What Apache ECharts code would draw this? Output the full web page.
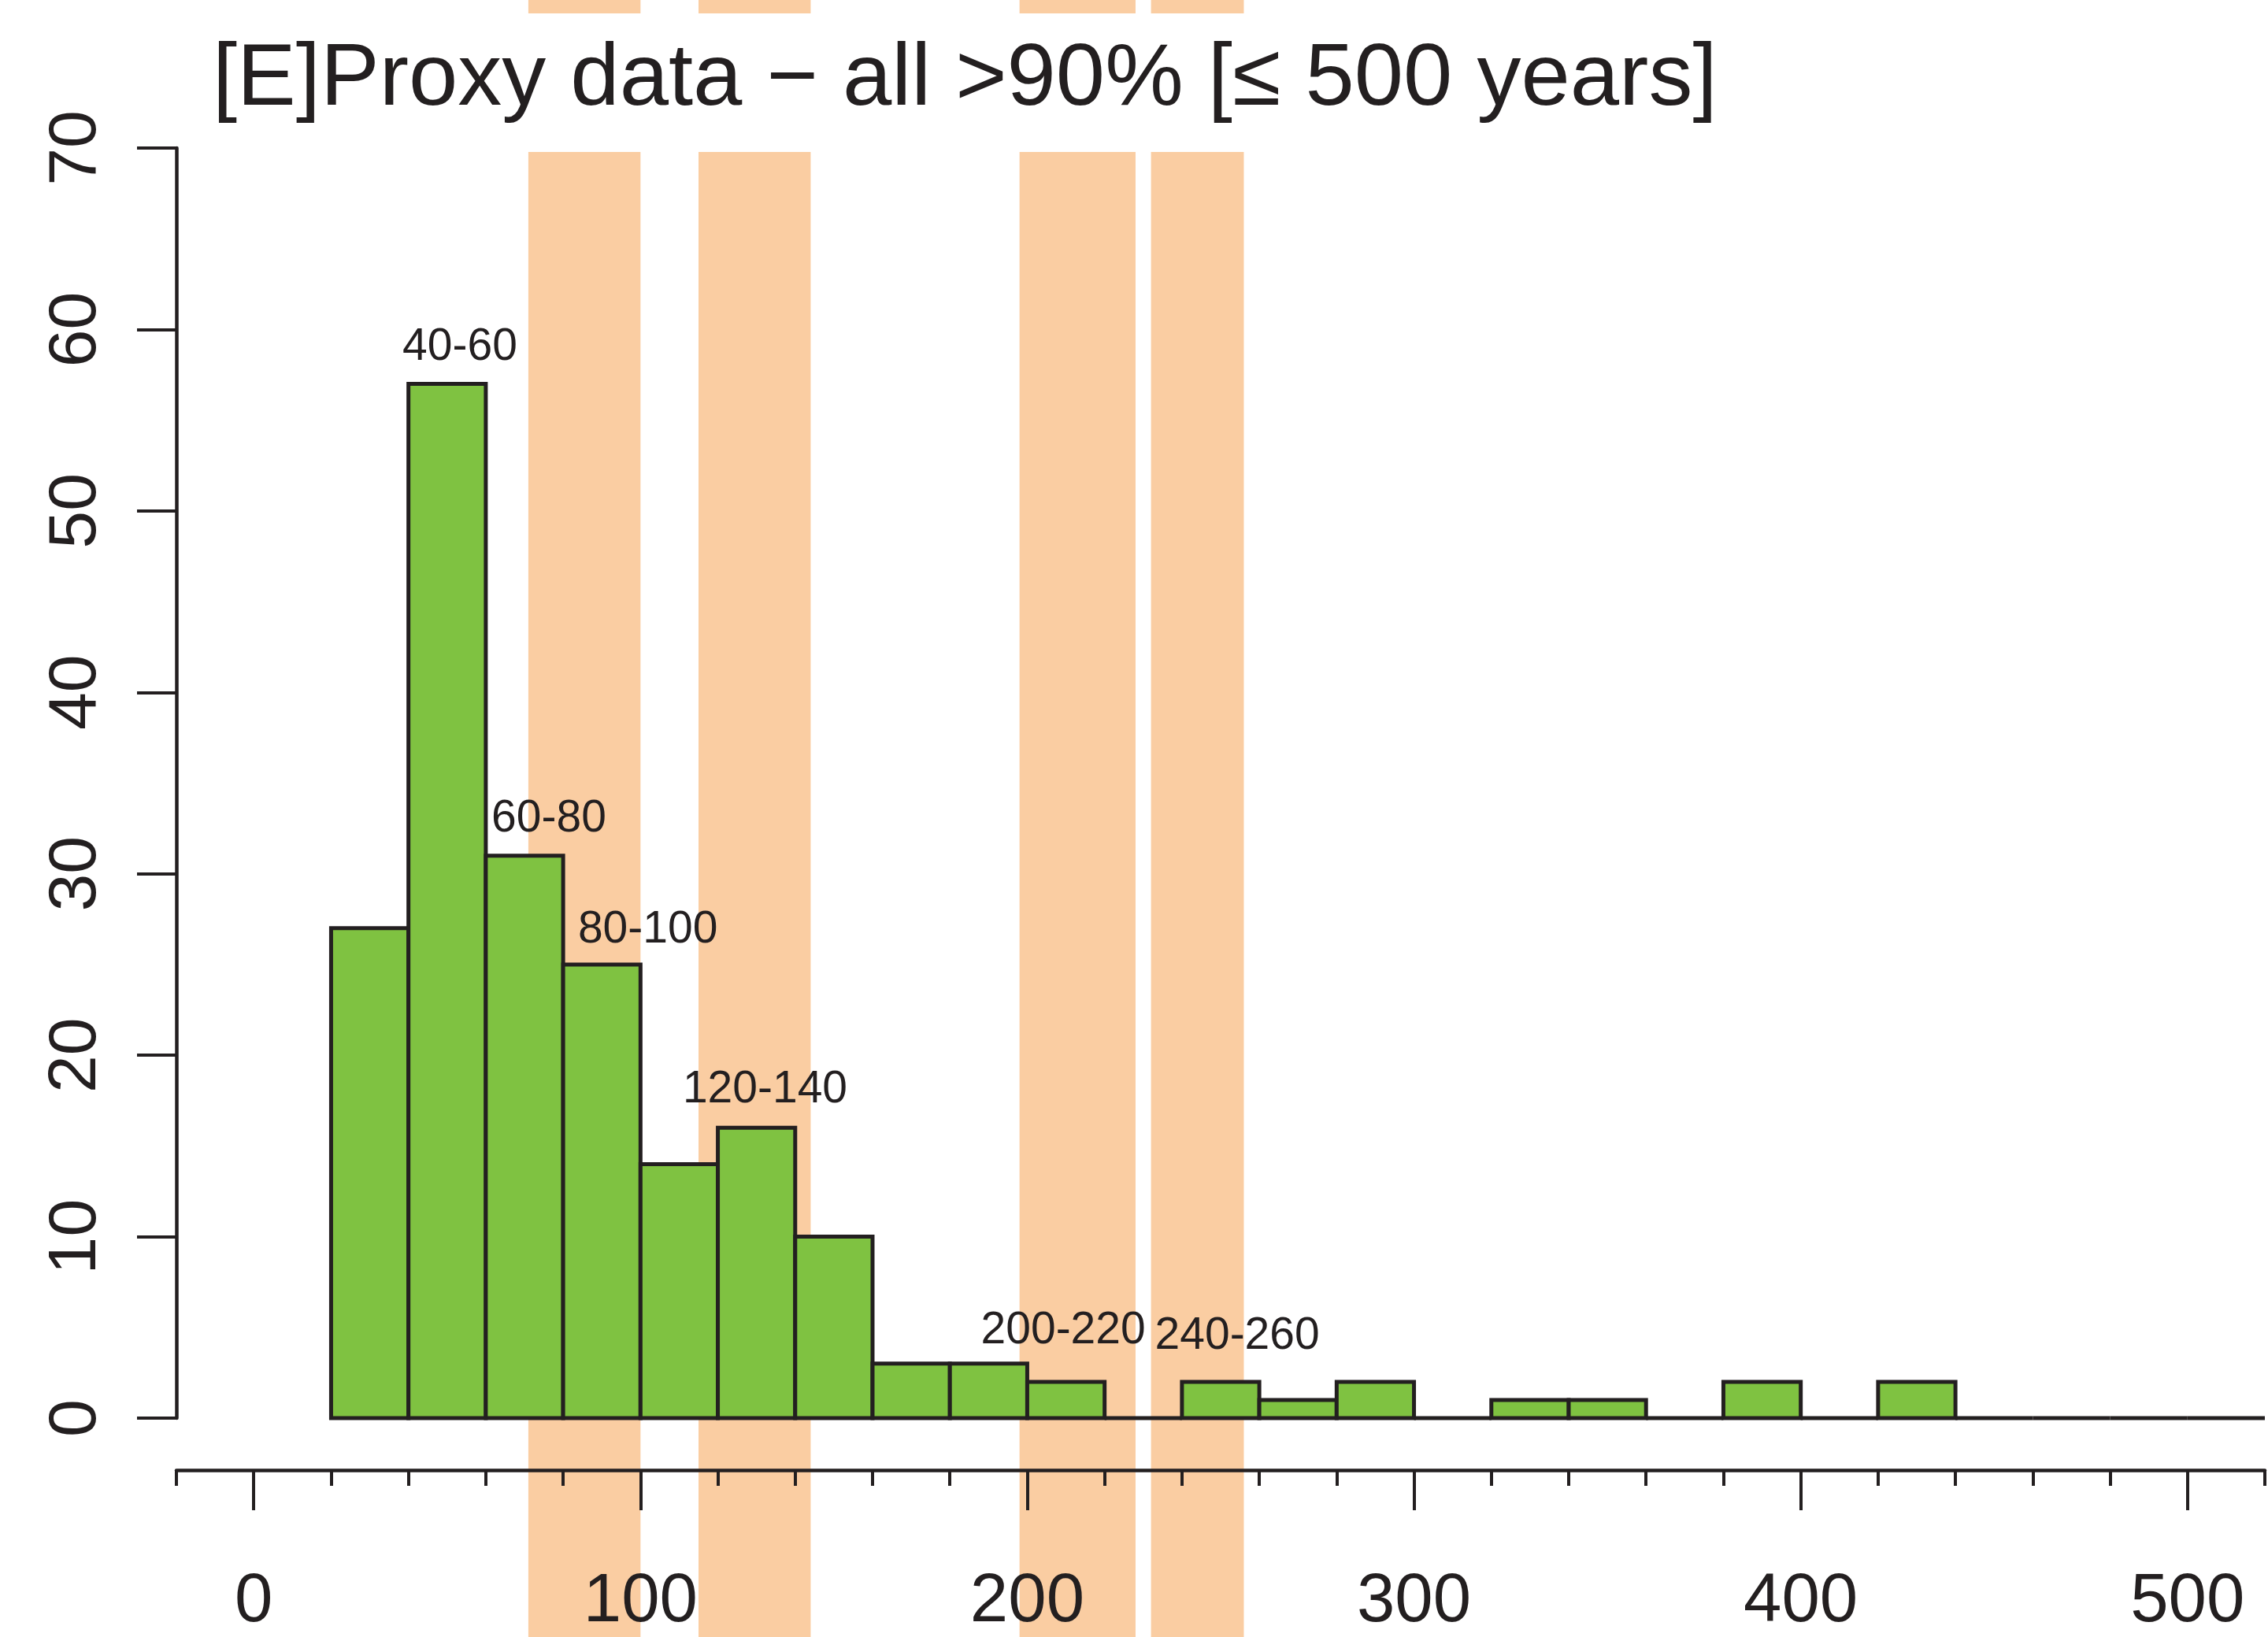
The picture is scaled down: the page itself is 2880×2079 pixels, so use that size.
<!DOCTYPE html>
<html><head><meta charset="utf-8">
<script src="https://cdn.jsdelivr.net/npm/echarts@6/dist/echarts.min.js"></script>
<style>html,body{margin:0;padding:0;background:#fff}#c{width:2880px;height:2079px}</style>
</head><body><div id="c"></div>
<script>
// ---- data ----
const titleText = '[E]Proxy data \u2212 all >90% [\u2264 500 years]';
const binWidth = 20;
const binStarts = [20,40,60,80,100,120,140,160,180,200,220,240,260,280,300,320,340,360,380,400,420,440,460,480,500];
const counts    = [27,57,31,25,14,16,10,3,3,2,0,2,1,2,0,1,1,0,2,0,2,0,0,0,0];
const bandStarts = [71,115,198,232];
const bandEnds   = [100,144,228,256];
const xTickValues = [0,100,200,300,400,500];
const annoText = ['40-60','60-80','80-100','120-140','200-220','240-260'];
const annoX    = [53.3,76.3,101.9,132.2,209.3,254.3];
const annoY    = [59.0,33.0,26.9,18.1,4.8,4.5];

// ---- chart ----
const FONT = "'Liberation Sans', Arial, Helvetica, sans-serif";
const INK = '#231f20';
const GREEN = '#7fc241';
const ORANGE = '#facda2';
const chart = echarts.init(document.getElementById('c'), null, {renderer:'canvas'});

function bandItem(params, api){
  const p0 = api.coord([api.value(0), 1]);
  const p1 = api.coord([api.value(1), 0]);
  return {type:'rect', shape:{x:p0[0], y:p0[1], width:p1[0]-p0[0], height:p1[1]-p0[1]}, style:{fill:ORANGE}};
}
function barItem(params, api){
  const p0 = api.coord([api.value(0), api.value(2)]);
  const p1 = api.coord([api.value(1), 0]);
  return {type:'rect', shape:{x:p0[0], y:p0[1], width:p1[0]-p0[0], height:p1[1]-p0[1]},
    style:{fill:api.value(2) > 0 ? GREEN : 'none', stroke:INK, lineWidth:5}};
}
const bandData = bandStarts.map((s,i)=>[s, bandEnds[i]]);

const option = {
  animation:false,
  backgroundColor:'#fff',
  title:{text:titleText, left:270, top:46, padding:0,
    textStyle:{fontFamily:FONT, fontSize:112, fontWeight:'normal', color:INK}},
  grid:[
    {left:224, right:4, top:188, bottom:278},
    {left:224, right:4, top:193, bottom:0},
    {left:224, right:4, top:0, height:17}
  ],
  xAxis:[
    {type:'value', gridIndex:0, min:-20, max:520, interval:20, position:'bottom', offset:66, z:3,
      axisLine:{show:true, onZero:false, lineStyle:{color:INK, width:4.5}},
      axisTick:{show:true, length:51, customValues:xTickValues, lineStyle:{color:INK, width:4}},
      axisLabel:{show:true, customValues:xTickValues, margin:125, fontSize:87, fontFamily:FONT, color:INK},
      splitLine:{show:false}},
    {type:'value', gridIndex:0, min:-20, max:520, interval:20, position:'bottom', offset:66, z:3,
      axisLine:{show:false, onZero:false},
      axisTick:{show:true, length:20, lineStyle:{color:INK, width:4}},
      axisLabel:{show:false}, splitLine:{show:false}},
    {type:'value', gridIndex:1, min:-20, max:520, show:false},
    {type:'value', gridIndex:2, min:-20, max:520, show:false}
  ],
  yAxis:[
    {type:'value', gridIndex:0, min:0, max:70, interval:10, z:3,
      axisLine:{show:true, onZero:false, lineStyle:{color:INK, width:4.5}},
      axisTick:{show:true, length:50, lineStyle:{color:INK, width:4}},
      axisLabel:{show:true, rotate:90, margin:84, fontSize:86, fontFamily:FONT, color:INK},
      splitLine:{show:false}},
    {type:'value', gridIndex:1, min:0, max:1, show:false},
    {type:'value', gridIndex:2, min:0, max:1, show:false}
  ],
  series:[
    {type:'custom', xAxisIndex:2, yAxisIndex:1, z:0, silent:true, renderItem:bandItem, data:bandData},
    {type:'custom', xAxisIndex:3, yAxisIndex:2, z:0, silent:true, renderItem:bandItem, data:bandData},
    {type:'custom', xAxisIndex:0, yAxisIndex:0, z:5, silent:true, renderItem:barItem,
      encode:{x:[0,1], y:2},
      data:binStarts.map((s,i)=>[s, s+binWidth, counts[i]])},
    {type:'scatter', xAxisIndex:0, yAxisIndex:0, z:6, symbolSize:0, silent:true,
      itemStyle:{opacity:1},
      data:annoX.map((x,i)=>[x, annoY[i]]),
      label:{show:true, position:'inside', formatter:(p)=>annoText[p.dataIndex],
        fontFamily:FONT, fontSize:57, color:INK, opacity:1}}
  ]
};
chart.setOption(option);
</script>
</body></html>
